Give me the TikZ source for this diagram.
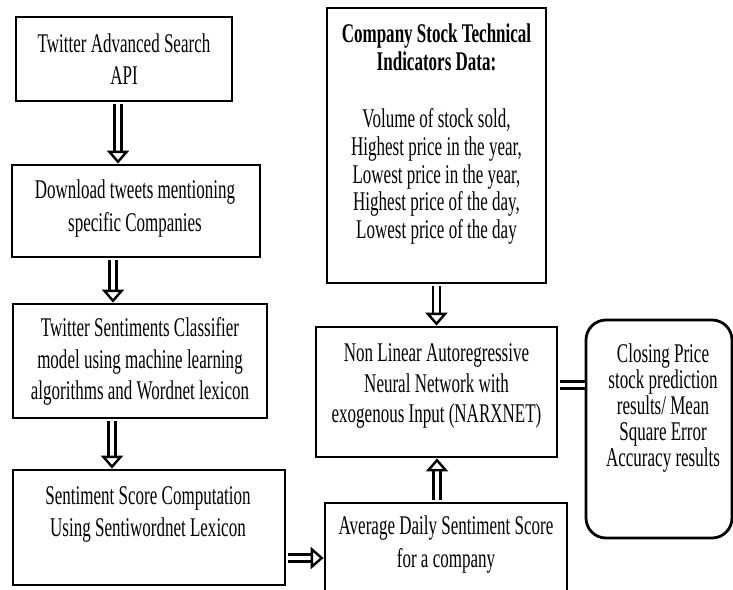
\documentclass[tikz,border=0pt]{standalone}
\usepackage{fontspec}
\setmainfont{Liberation Serif}[FakeStretch=0.63]
\usetikzlibrary{arrows.meta}
\begin{document}
\begin{tikzpicture}[x=1pt,y=-1pt,
  box/.style={draw, line width=2.8pt, inner sep=0pt},
  txt/.style={align=center, inner sep=0pt},
  dbl/.style={draw=black, double=white, double distance=4.4pt, line width=2.7pt, shorten <=1.4pt},
  arr/.style={dbl, -{Triangle[open, length=13pt, width=22pt, line width=2.4pt]}}
]
\useasboundingbox (0,0) rectangle (733,589);
\clip (0,0) rectangle (733,589);
% boxes
\node[box, minimum width=216pt, minimum height=84pt] (b1) at (124,59) {};
\node[box, minimum width=248pt, minimum height=92pt] (b2) at (136,211) {};
\node[box, minimum width=254pt, minimum height=114pt] (b3) at (140,361) {};
\node[box, minimum width=272pt, minimum height=115pt] (b4) at (149,527.5) {};
\node[box, minimum width=219pt, minimum height=275pt] (stock) at (436.5,145.5) {};
\node[box, minimum width=241pt, minimum height=130pt] (narx) at (436.5,392) {};
\node[box, minimum width=242pt, minimum height=117pt] (avg) at (446,561.5) {};
\node[box, rounded corners=20pt, minimum width=146pt, minimum height=218pt] (out) at (659,429) {};
% texts
\node[txt, font=\fontsize{27}{32}\selectfont] (t1) at (124,59.5) {Twitter Advanced Search\\API};
\node[txt, font=\fontsize{27}{33}\selectfont] (t2) at (135,209) {Download tweets mentioning\\specific Companies};
\node[txt, font=\fontsize{27}{31.5}\selectfont] (t3) at (140,361.5) {Twitter Sentiments Classifier\\model using machine learning\\algorithms and Wordnet lexicon};
\node[txt, font=\fontsize{27}{32}\selectfont] (t4) at (148,514.5) {Sentiment Score Computation\\Using Sentiwordnet Lexicon};
\node[txt, font=\bfseries\fontsize{27}{28}\selectfont] (t5) at (436.5,47.5) {Company Stock Technical\\Indicators Data:};
\node[txt, font=\fontsize{27}{27.8}\selectfont] (t6) at (436.5,176.5) {Volume of stock sold,\\Highest price in the year,\\Lowest price in the year,\\Highest price of the day,\\Lowest price of the day};
\node[txt, font=\fontsize{27}{30.5}\selectfont] (t7) at (436.5,386) {Non Linear Autoregressive\\Neural Network with\\exogenous Input (NARXNET)};
\node[txt, font=\fontsize{27}{33}\selectfont] (t8) at (446,545) {Average Daily Sentiment Score\\for a company};
\node[txt, font=\fontsize{27}{26}\selectfont] (t9) at (663,408.5) {Closing Price\\stock prediction\\results/ Mean\\Square Error\\Accuracy results};
% connectors
\draw[arr] ([xshift=-6pt]b1.south) -- ([xshift=-6pt]b1.south |- b2.north);
\draw[arr] ([xshift=-23pt]b2.south) -- ([xshift=-23pt]b2.south |- b3.north);
\draw[arr] ([xshift=-28pt]b3.south) -- ([xshift=-28pt]b3.south |- b4.north);
\draw[arr] ([yshift=-30.5pt]b4.east) -- ([yshift=-30.5pt]b4.east -| avg.west);
\draw[arr] (stock.south) -- (narx.north);
\draw[arr] ([xshift=-9pt]avg.north) -- ([xshift=-9pt]avg.north |- narx.south);
\draw[dbl] ([yshift=7pt]narx.east) -- ([yshift=7pt]narx.east -| out.west);
\end{tikzpicture}
\end{document}
